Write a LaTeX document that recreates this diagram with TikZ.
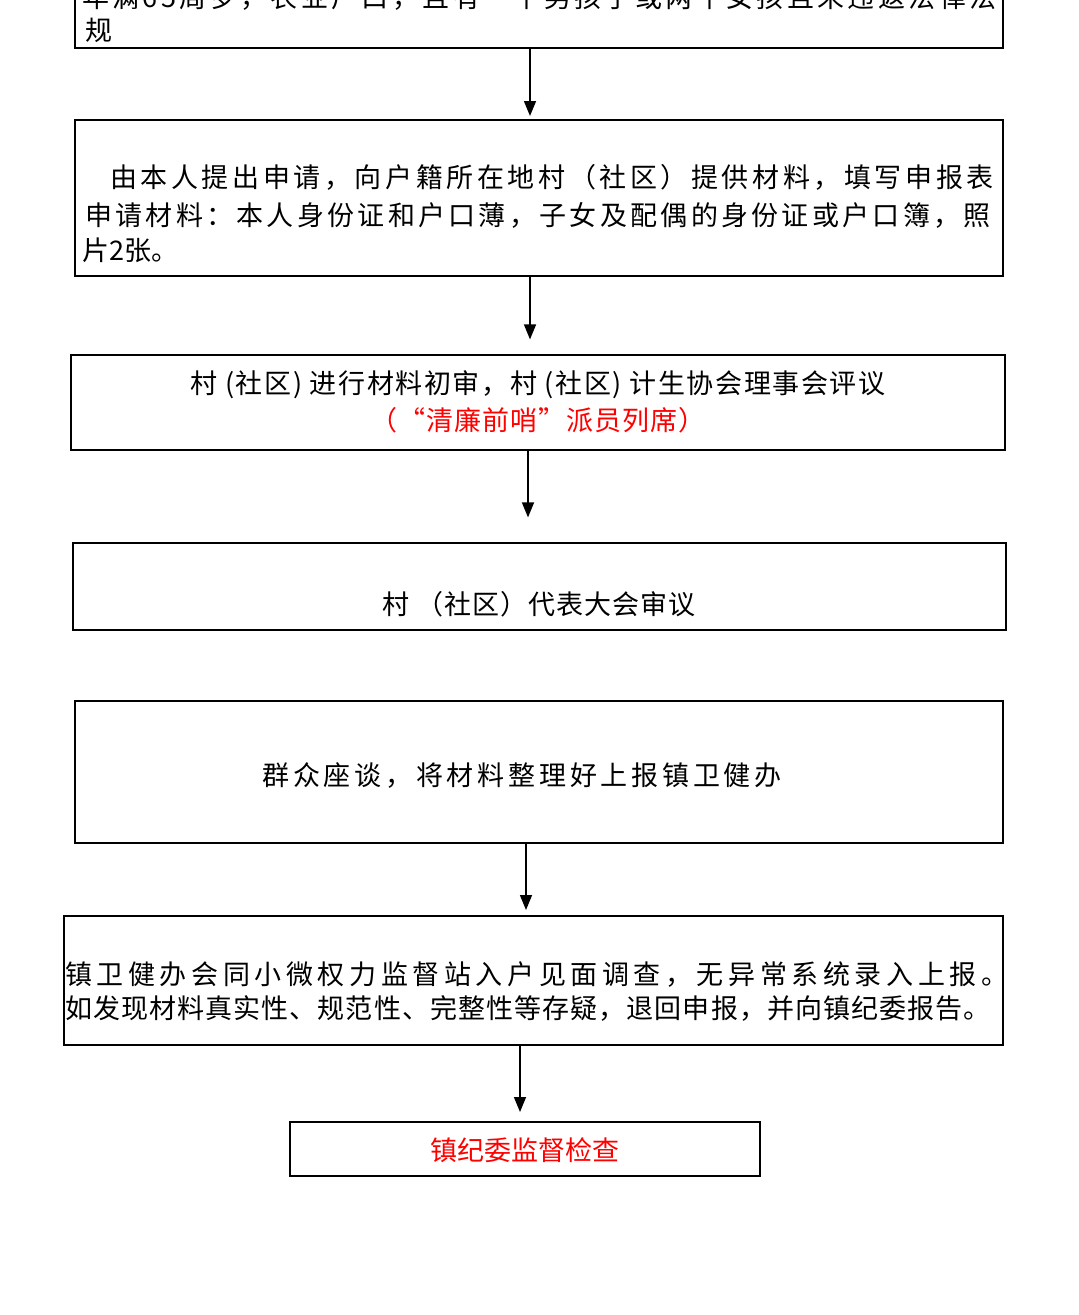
\documentclass[tikz,border=0pt]{standalone}
\usepackage{fontspec}
\setmainfont{Noto Sans CJK SC}
\usetikzlibrary{arrows.meta,positioning,calc}

\begin{document}
\begin{tikzpicture}[
    x=1pt, y=-1pt,
    stepbox/.style={draw, line width=2pt, rectangle, inner sep=0pt},
    thinbox/.style={draw, line width=1.2pt, rectangle, inner sep=0pt},
    txt/.style={inner sep=0pt, font=\fontsize{27}{34}\selectfont},
    spaced/.style={inner sep=0pt, font=\fontsize{27}{34}\selectfont\addfontfeatures{LetterSpace=#1}},
    flow/.style={line width=1.5pt, -{Triangle[length=15pt,width=12pt]}}
]
    \useasboundingbox (0,0) rectangle (1079,1315);

    % boxes
    \node[stepbox, minimum width=928pt, minimum height=120pt] (b1) at (539,-12) {};
    \node[stepbox, minimum width=928pt, minimum height=156pt] (b2) at (539,198) {};
    \node[thinbox, minimum width=934pt, minimum height=95pt] (b3) at (538,402.5) {};
    \node[thinbox, minimum width=933pt, minimum height=87pt] (b4) at (539.5,586.5) {};
    \node[stepbox, minimum width=928pt, minimum height=142pt] (b5) at (539,772) {};
    \node[stepbox, minimum width=939pt, minimum height=129pt] (b6) at (533.5,980.5) {};
    \node[stepbox, minimum width=470pt, minimum height=54pt] (b7) at (525,1149) {};

    % texts
    \node[spaced=12.5, anchor=base west] (t1a) at (82,7) {年满65周岁，农业户口，且有一个男孩子或两个女孩且未违返法律法};
    \node[txt, anchor=base west] (t1b) at (85,40) {规};

    \node[spaced=13.3, anchor=base west] (t2a) at (110,187) {由本人提出申请，向户籍所在地村（社区）提供材料，填写申报表};
    \node[spaced=12.2, anchor=base west] (t2b) at (85,225) {申请材料：本人身份证和户口薄，子女及配偶的身份证或户口簿，照};
    \node[txt, anchor=base west] (t2c) at (82,260) {片2张。};

    \node[spaced=6, anchor=base] (t3a) at (538,393) {村 (社区) 进行材料初审，村 (社区) 计生协会理事会评议};
    \node[spaced=4, anchor=base, text=red] (t3b) at (538,430) {（“清廉前哨”派员列席）};

    \node[spaced=4, anchor=base] (t4) at (539,614) {村 （社区）代表大会审议};

    \node[spaced=14, anchor=base] (t5) at (522,785) {群众座谈，将材料整理好上报镇卫健办};

    \node[spaced=17, anchor=base west] (t6a) at (65,984) {镇卫健办会同小微权力监督站入户见面调查，无异常系统录入上报。};
    \node[spaced=4, anchor=base west] (t6b) at (65,1018) {如发现材料真实性、规范性、完整性等存疑，退回申报，并向镇纪委报告。};

    \node[txt, anchor=base, text=red] (t7) at (525,1160) {镇纪委监督检查};

    % arrows
    \foreach \a/\b/\dx/\gap in {b1/b2/-9/3, b2/b3/-9/15, b3/b4/-10/25, b5/b6/-13/5, b6/b7/-13.5/9}
        \draw[flow, shorten >=\gap pt] ([xshift=\dx pt]\a.south) -- ([xshift=\dx pt]\a.south |- \b.north);
\end{tikzpicture}
\end{document}
